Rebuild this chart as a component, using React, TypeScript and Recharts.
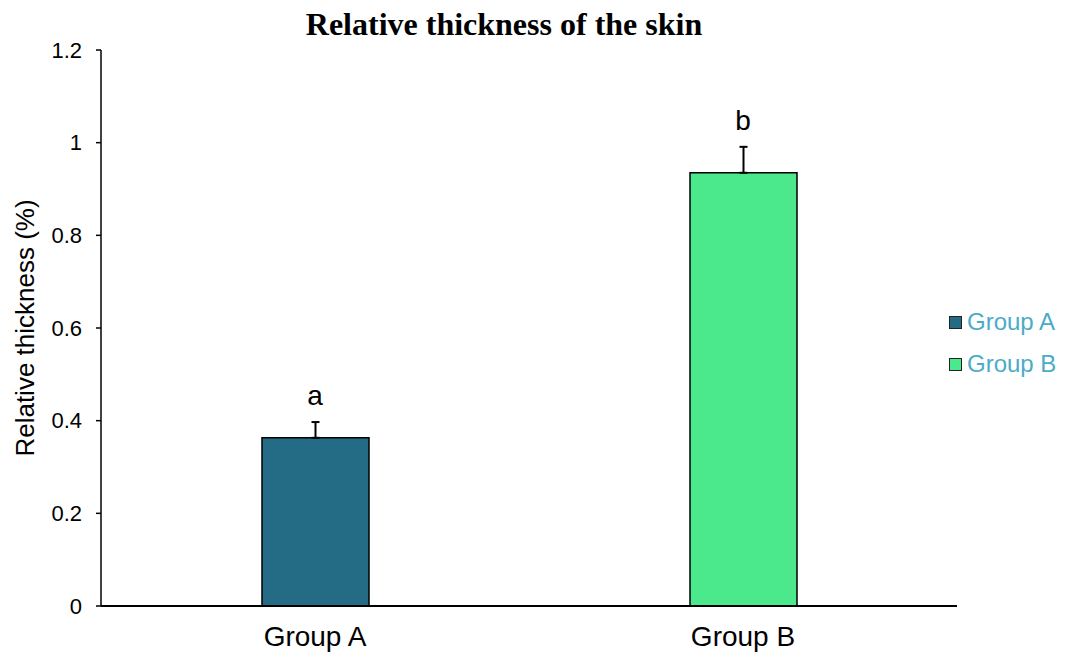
import { ComposedChart, Bar, Line, XAxis, YAxis, ErrorBar, LabelList } from 'recharts';

const categories = ['Group A', 'Group B'];
const means = [0.363, 0.935];
const errors = [0.034, 0.056];
const letters = ['a', 'b'];
const seriesKeys = ['A', 'B'];
const seriesColors = ['#246b86', '#4ce98c'];
const yTicks = [0, 0.2, 0.4, 0.6, 0.8, 1, 1.2];

const data = categories.map((name, i) => {
  const row: Record<string, any> = { name, top: means[i] + errors[i], letter: letters[i] };
  seriesKeys.forEach((k, j) => {
    row[k] = j === i ? means[i] : undefined;
    row['err' + k] = j === i ? [0, errors[i]] : undefined;
  });
  return row;
});

const font = 'Arial, "Liberation Sans", sans-serif';

const ChartLegend = () => (
  <div style={{ position: 'absolute', left: 949, top: 301, fontFamily: font, fontSize: 24 }}>
    {categories.map((c, i) => (
      <div key={c} style={{ display: 'flex', alignItems: 'center', height: 42 }}>
        <span
          style={{
            width: 11,
            height: 11,
            background: seriesColors[i],
            border: '1.5px solid #222',
            marginRight: 5,
            display: 'inline-block',
          }}
        />
        <span style={{ color: '#4bacc6' }}>{c}</span>
      </div>
    ))}
  </div>
);

const App = () => {
  return (
    <div style={{ position: 'absolute', left: 0, top: 0, width: 1066, height: 659, background: '#fff' }}>
      <div
        style={{
          position: 'absolute',
          left: 0,
          width: 1008,
          top: 6,
          textAlign: 'center',
          fontFamily: '"Times New Roman", "Liberation Serif", serif',
          fontWeight: 'bold',
          fontSize: 32,
        }}
      >
        Relative thickness of the skin
      </div>
      <ChartLegend />
      <ComposedChart
        width={1066}
        height={659}
        data={data}
        margin={{ top: 50, right: 109, bottom: 0, left: 0 }}
      >
        <XAxis
          dataKey="name"
          tickLine={false}
          axisLine={{ stroke: '#000', strokeWidth: 2 }}
          tick={{ fill: '#000', fontSize: 28, fontFamily: font }}
          tickMargin={14}
          height={53}
        />
        <YAxis
          domain={[0, 1.2]}
          ticks={yTicks}
          width={101}
          axisLine={{ stroke: '#000', strokeWidth: 1.5 }}
          tickLine={{ stroke: '#000', strokeWidth: 1.5 }}
          tickSize={5}
          tickMargin={14}
          tick={{ fill: '#000', fontSize: 22, fontFamily: font }}
          label={{
            value: 'Relative thickness (%)',
            angle: -90,
            position: 'insideLeft',
            offset: 25,
            style: { textAnchor: 'middle', fill: '#000', fontSize: 26, fontFamily: font },
          }}
        />
        {seriesKeys.map((k, i) => (
          <Bar
            key={k}
            dataKey={k}
            name={categories[i]}
            stackId="s"
            fill={seriesColors[i]}
            stroke="#000"
            strokeWidth={1.5}
            barSize={107}
            isAnimationActive={false}
          >
            <ErrorBar dataKey={'err' + k} direction="y" width={4} stroke="#000" strokeWidth={2} />
          </Bar>
        ))}
        <Line
          dataKey="top"
          stroke="none"
          dot={false}
          activeDot={false}
          legendType="none"
          isAnimationActive={false}
        >
          <LabelList
            dataKey="letter"
            position="top"
            offset={17}
            style={{ fill: '#000', fontSize: 28, fontFamily: font }}
          />
        </Line>
      </ComposedChart>
    </div>
  );
};

export default App;
